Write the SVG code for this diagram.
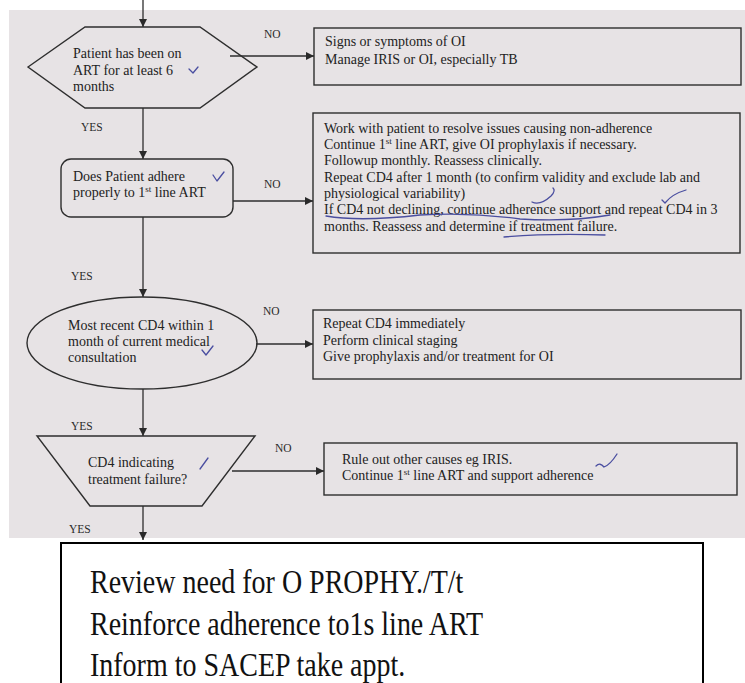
<svg xmlns="http://www.w3.org/2000/svg" width="745" height="683" viewBox="0 0 745 683">
<defs>
<marker id="ah" viewBox="0 0 10 10" refX="10" refY="5" markerWidth="8" markerHeight="8" markerUnits="userSpaceOnUse" orient="auto">
<path d="M0,0 L10,5 L0,10 z" fill="#2a2a2a"/>
</marker>
<style>
.t{font-family:"Liberation Serif","Times New Roman",serif;font-size:14px;fill:#222}
.lbl{font-family:"Liberation Serif","Times New Roman",serif;font-size:11.5px;fill:#2a2a2a}
.s{fill:none;stroke:#2e2e2e;stroke-width:1.4}
.c{fill:none;stroke:#2e2e2e;stroke-width:1.3}
.hw{fill:none;stroke:#4a4ea0;stroke-width:1.3;stroke-linecap:round;stroke-linejoin:round}
.big{font-family:"Liberation Serif","Times New Roman",serif;font-size:28px;fill:#111}
</style>
</defs>
<rect x="0" y="0" width="745" height="683" fill="#ffffff"/>
<rect x="9" y="10" width="736" height="528" fill="#e7e3e5"/>

<g id="connectors">
<line class="c" x1="143" y1="0" x2="143" y2="27" marker-end="url(#ah)"/>
<line class="c" x1="230" y1="56" x2="314" y2="56" marker-end="url(#ah)"/>
<line class="c" x1="143" y1="108" x2="143" y2="159" marker-end="url(#ah)"/>
<line class="c" x1="233" y1="201" x2="313" y2="201" marker-end="url(#ah)"/>
<line class="c" x1="143" y1="217" x2="143" y2="297" marker-end="url(#ah)"/>
<line class="c" x1="256" y1="344" x2="313" y2="344" marker-end="url(#ah)"/>
<line class="c" x1="143" y1="389" x2="143" y2="436" marker-end="url(#ah)"/>
<line class="c" x1="232" y1="471" x2="324" y2="471" marker-end="url(#ah)"/>
<line class="c" x1="143" y1="506" x2="143" y2="540" marker-end="url(#ah)"/>
<text class="lbl" x="264" y="38">NO</text>
<text class="lbl" x="81" y="131">YES</text>
<text class="lbl" x="264" y="188">NO</text>
<text class="lbl" x="71" y="280">YES</text>
<text class="lbl" x="263" y="315">NO</text>
<text class="lbl" x="71" y="430">YES</text>
<text class="lbl" x="275" y="452">NO</text>
<text class="lbl" x="69" y="533">YES</text>
</g>

<g id="n1">
<polygon class="s" points="28,67 85,27 200,27 257,67 200,108 85,108"/>
<text class="t" x="73" y="58">Patient has been on</text>
<text class="t" x="73" y="75">ART for at least 6</text>
<text class="t" x="73" y="91">months</text>
<path class="hw" d="M189,69 L193,73 L198,67"/>
</g>

<g id="n1no">
<rect class="s" x="314" y="28" width="427" height="57"/>
<text class="t" x="325" y="46">Signs or symptoms of OI</text>
<text class="t" x="325" y="64">Manage IRIS or OI, especially TB</text>
</g>

<g id="n2">
<rect class="s" x="61" y="159" width="172" height="58" rx="10" ry="10"/>
<text class="t" x="73" y="181">Does Patient adhere</text>
<text class="t" x="73" y="197">properly to 1<tspan font-size="9" dy="-5">st</tspan><tspan dy="5"> line ART</tspan></text>
<path class="hw" d="M213,175 L217,181 L224,172"/>
</g>

<g id="n2no">
<rect class="s" x="313" y="113" width="427" height="140"/>
<text class="t" x="324" y="133">Work with patient to resolve issues causing non-adherence</text>
<text class="t" x="324" y="149">Continue 1<tspan font-size="9" dy="-5">st</tspan><tspan dy="5"> line ART, give OI prophylaxis if necessary.</tspan></text>
<text class="t" x="324" y="165">Followup monthly. Reassess clinically.</text>
<text class="t" x="324" y="182">Repeat CD4 after 1 month (to confirm validity and exclude lab and</text>
<text class="t" x="324" y="198">physiological variability)</text>
<text class="t" x="324" y="214">If CD4 not declining, continue adherence support and repeat CD4 in 3</text>
<text class="t" x="324" y="231">months. Reassess and determine if treatment failure.</text>
<path class="hw" d="M532,202 Q540,206 551,196 Q556,191 553,188"/>
<path class="hw" d="M662,200 L665,203 Q672,194 686,190"/>
<path class="hw" d="M326,216 Q360,222 420,215 Q470,212 520,219 Q570,222 610,215"/>
<path class="hw" d="M504,237 Q550,233 605,235"/>
</g>

<g id="n3">
<ellipse class="s" cx="142" cy="343" rx="115" ry="46"/>
<text class="t" x="68" y="330">Most recent CD4 within 1</text>
<text class="t" x="68" y="346">month of current medical</text>
<text class="t" x="68" y="362">consultation</text>
<path class="hw" d="M202,350 L206,355 L213,346"/>
</g>

<g id="n3no">
<rect class="s" x="313" y="310" width="428" height="69"/>
<text class="t" x="323" y="328">Repeat CD4 immediately</text>
<text class="t" x="323" y="345">Perform clinical staging</text>
<text class="t" x="323" y="361">Give prophylaxis and/or treatment for OI</text>
</g>

<g id="n4">
<polygon class="s" points="37,436 255,436 202,506 90,506"/>
<text class="t" x="88" y="467">CD4 indicating</text>
<text class="t" x="88" y="484">treatment failure?</text>
<path class="hw" d="M200,469 L208,458"/>
</g>

<g id="n4no">
<rect class="s" x="324" y="443" width="413" height="52"/>
<text class="t" x="342" y="464">Rule out other causes eg IRIS.</text>
<text class="t" x="342" y="480">Continue 1<tspan font-size="9" dy="-5">st</tspan><tspan dy="5"> line ART and support adherence</tspan></text>
<path class="hw" d="M596,466 Q600,462 604,467 Q610,465 617,454"/>
</g>

<g id="n5">
<path d="M61,683 L61,543 L703,543 L703,683" fill="none" stroke="#000" stroke-width="2"/>
<g transform="scale(1,1.2)">
<text class="big" x="90" y="494">Review need for O PROPHY./T/t</text>
<text class="big" x="90" y="529.5">Reinforce adherence to1s line ART</text>
<text class="big" x="90" y="563.5">Inform to SACEP take appt.</text>
</g>
</g>
</svg>
